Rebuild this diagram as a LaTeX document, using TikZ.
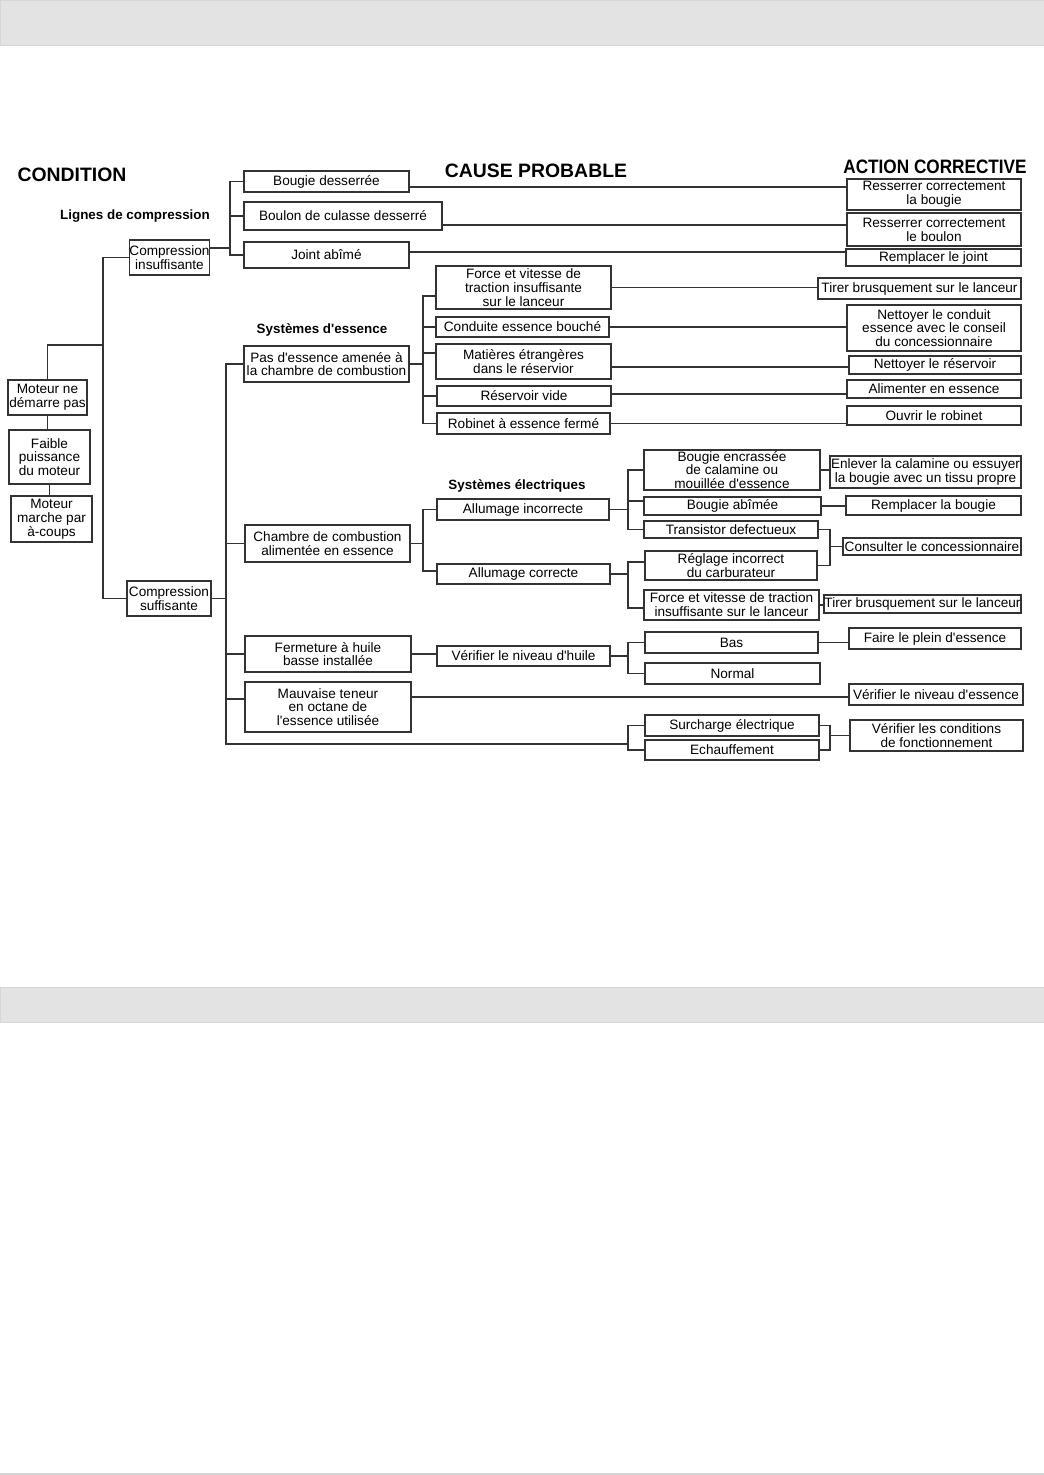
\documentclass[tikz,border=0pt]{standalone}
\usepackage{fontspec}
\setmainfont{Liberation Sans}[Ligatures=TeXOff]
\usetikzlibrary{positioning,calc}
\definecolor{band}{HTML}{E3E3E3}
\definecolor{bandline}{HTML}{D6D6D6}

\begin{document}
\begin{tikzpicture}[x=1pt,y=-1pt,
    box/.style={draw=black!80,line width=1.3pt,inner sep=0pt,align=center,
      font=\fontsize{13.6}{13.8}\selectfont},
    head/.style={inner sep=0pt,font=\fontsize{19.4}{22}\selectfont\bfseries},
    sub/.style={inner sep=0pt,font=\fontsize{13.4}{15}\selectfont\bfseries},
    link/.style={draw=black!80,line width=1.3pt}]
  \useasboundingbox (0,0) rectangle (1044,1475);
  \fill[band,draw=bandline] (0,0) rectangle (1044,45);
  \fill[band,draw=bandline] (0,987) rectangle (1044,1022);
  \fill[bandline] (0,1473) rectangle (1044,1475);

  \node[head] (hcond) at (72,175) {CONDITION};
  \node[head] (hcause) at (536,171) {CAUSE PROBABLE};
  \node[head,xscale=0.885] (hact) at (935,167) {ACTION CORRECTIVE};
  \node[sub] (lcomp) at (135,216) {Lignes de compression};
  \node[sub] (less) at (322,330) {Systèmes d'essence};
  \node[sub] (lelec) at (517,486) {Systèmes électriques};

  % condition
  \node[box,minimum width=79,minimum height=35] (mdp) at (47.5,397.5) {Moteur ne\\démarre pas};
  \node[box,minimum width=81,minimum height=54] (fpm) at (49.5,457) {Faible\\puissance\\du moteur};
  \node[box,minimum width=81,minimum height=46] (mmp) at (51.5,519) {Moteur\\marche par\\à-coups};
  \node[box,minimum width=79,minimum height=35] (ci) at (169.5,257.5) {Compression\\insuffisante};
  \node[box,minimum width=84,minimum height=35] (cs) at (169,598.5) {Compression\\suffisante};

  % cause probable
  \node[box,minimum width=165,minimum height=21] (bd) at (326.5,181.5) {Bougie desserrée};
  \node[box,minimum width=198,minimum height=28] (bc) at (343,216) {Boulon de culasse desserré};
  \node[box,minimum width=165,minimum height=26] (ja) at (326.5,255) {Joint abîmé};
  \node[box,minimum width=165,minimum height=36] (pe) at (326.5,364) {Pas d'essence amenée à\\la chambre de combustion};
  \node[box,minimum width=165,minimum height=37] (cc) at (327.5,543.5) {Chambre de combustion\\alimentée en essence};
  \node[box,minimum width=166,minimum height=36] (fh) at (328,654) {Fermeture à huile\\basse installée};
  \node[box,minimum width=166,minimum height=50] (mt) at (328,707) {Mauvaise teneur\\en octane de\\l'essence utilisée};

  \node[box,minimum width=175,minimum height=43] (fv) at (523.5,287.5) {Force et vitesse de\\traction insuffisante\\sur le lanceur};
  \node[box,minimum width=173,minimum height=20] (ceb) at (522.5,327) {Conduite essence bouché};
  \node[box,minimum width=175,minimum height=35] (me) at (523.5,361.5) {Matières étrangères\\dans le réservior};
  \node[box,minimum width=174,minimum height=20] (rv) at (524,396) {Réservoir vide};
  \node[box,minimum width=173,minimum height=21] (rf) at (523.5,423.5) {Robinet à essence fermé};
  \node[box,minimum width=172,minimum height=21] (ai) at (523,509.5) {Allumage incorrecte};
  \node[box,minimum width=173,minimum height=20] (ac) at (523.5,574) {Allumage correcte};
  \node[box,minimum width=173,minimum height=20] (vh) at (523.5,656) {Vérifier le niveau d'huile};

  \node[box,minimum width=176,minimum height=40] (be) at (732,470) {Bougie encrassée\\de calamine ou\\mouillée d'essence};
  \node[box,minimum width=177,minimum height=18] (ba) at (732.5,506) {Bougie abîmée};
  \node[box,minimum width=174,minimum height=17] (td) at (731,529.5) {Transistor defectueux};
  \node[box,minimum width=172,minimum height=29] (ri) at (731,565.5) {Réglage incorrect\\du carburateur};
  \node[box,minimum width=175,minimum height=30] (fv2) at (731.5,605) {Force et vitesse de traction\\insuffisante sur le lanceur};
  \node[box,minimum width=173,minimum height=21] (bas) at (731.5,642.5) {Bas};
  \node[box,minimum width=175,minimum height=21] (nor) at (732.5,673.5) {Normal};
  \node[box,minimum width=174,minimum height=21] (se) at (732,725.5) {Surcharge électrique};
  \node[box,minimum width=174,minimum height=20] (ech) at (732,750) {Echauffement};

  % action corrective
  \node[box,minimum width=174,minimum height=31] (rcb) at (934,194.5) {Resserrer correctement\\la bougie};
  \node[box,minimum width=174,minimum height=33] (rcbo) at (934,229.5) {Resserrer correctement\\le boulon};
  \node[box,minimum width=175,minimum height=17] (rj) at (933.5,257.5) {Remplacer le joint};
  \node[box,minimum width=203,minimum height=21] (tb) at (919.5,288.5) {Tirer brusquement sur le lanceur};
  \node[box,minimum width=174,minimum height=46] (nc) at (934,328) {Nettoyer le conduit\\essence avec le conseil\\du concessionnaire};
  \node[box,minimum width=172,minimum height=18] (nr) at (935,365) {Nettoyer le réservoir};
  \node[box,minimum width=174,minimum height=18] (ae) at (934,389) {Alimenter en essence};
  \node[box,minimum width=174,minimum height=19] (or) at (934,415.5) {Ouvrir le robinet};
  \node[box,minimum width=191,minimum height=32] (ec) at (925.5,472) {Enlever la calamine ou essuyer\\la bougie avec un tissu propre};
  \node[box,minimum width=175,minimum height=19] (rb) at (933.5,505.5) {Remplacer la bougie};
  \node[box,minimum width=178,minimum height=17] (cco) at (932,546.5) {Consulter le concessionnaire};
  \node[box,minimum width=197,minimum height=18] (tb2) at (922.5,604) {Tirer brusquement sur le lanceur};
  \node[box,minimum width=172,minimum height=21] (fp) at (935,638.5) {Faire le plein d'essence};
  \node[box,minimum width=174,minimum height=21] (ve) at (936,694.5) {Vérifier le niveau d'essence};
  \node[box,minimum width=173,minimum height=31] (vc) at (936.5,735.5) {Vérifier les conditions\\de fonctionnement};

  % junctions
  \coordinate (jcond) at (103,345);
  \coordinate (jci) at (230,248);
  \coordinate (jcs) at (226,598.5);
  \coordinate (jbot) at (226,744);
  \coordinate (jse) at (628,744);
  \coordinate (jpe) at (423,364);
  \coordinate (jcc) at (423,543.5);
  \coordinate (jai) at (628,509.5);
  \coordinate (jac) at (628,574);
  \coordinate (jvh) at (628,656);
  \coordinate (jtd) at (830,546.5);
  \coordinate (jsc) at (830,735.5);

  % condition tree
  \draw[link] (mdp.south) -- (mdp.south |- fpm.north);
  \draw[link] (fpm.south) -- (fpm.south |- mmp.north);
  \draw[link] (mdp.north) |- (jcond);
  \draw[link] (ci.west) -| (jcond) |- (cs.west);

  % compression insuffisante
  \draw[link] ([yshift=9.5pt]ci.east) -- (jci);
  \draw[link] (bd.west) -| (jci) |- (ja.west);
  \draw[link] (bc.west) -- (bc.west -| jci);
  \draw[link] ([yshift=-5.5pt]bd.east) coordinate (t1) -- (t1 -| rcb.west);
  \draw[link] ([yshift=-9pt]bc.east) coordinate (t2) -- (t2 -| rcbo.west);
  \draw[link] ([yshift=3pt]ja.east) coordinate (t3) -- (t3 -| rj.west);

  % compression suffisante
  \draw[link] (cs.east) -- (jcs);
  \draw[link] (pe.west) -| (jbot) -- (jse);
  \draw[link] (cc.west) -- (cc.west -| jbot);
  \draw[link] (fh.west) -- (fh.west -| jbot);
  \draw[link] ([yshift=8pt]mt.west) coordinate (t4) -- (t4 -| jbot);
  \draw[link] (se.west) -| (jse) |- (ech.west);
  \draw[link] (se.east) -| (jsc) |- (ech.east);
  \draw[link] (jsc) -- (vc.west);
  \draw[link] ([yshift=10pt]mt.east) coordinate (t5) -- (t5 -| ve.west);

  % essence
  \draw[link] (pe.east) -- (jpe);
  \draw[link] ([yshift=-8.5pt]fv.west) -| (jpe) |- (rf.west);
  \draw[link] (ceb.west) -- (ceb.west -| jpe);
  \draw[link] ([yshift=8.5pt]me.west) coordinate (t6) -- (t6 -| jpe);
  \draw[link] (rv.west) -- (rv.west -| jpe);
  \draw[link] (fv.east) -- (fv.east -| tb.west);
  \draw[link] (ceb.east) -- (ceb.east -| nc.west);
  \draw[link] ([yshift=-5.5pt]me.east) coordinate (t7) -- (t7 -| nr.west);
  \draw[link] ([yshift=2pt]rv.east) coordinate (t8) -- (t8 -| ae.west);
  \draw[link] (rf.east) -- (rf.east -| or.west);

  % electrique
  \draw[link] (cc.east) -- (jcc);
  \draw[link] (ai.west) -| (jcc) |- ([yshift=3pt]ac.west);
  \draw[link] (ai.east) -- (jai);
  \draw[link] (be.west) -| (jai) |- (td.west);
  \draw[link] ([yshift=5pt]ba.west) coordinate (t9) -- (t9 -| jai);
  \draw[link] (ac.east) -- (jac);
  \draw[link] ([yshift=3.5pt]ri.west) -| (jac) |- ([yshift=-3pt]fv2.west);
  \draw[link] (be.east) -- (be.east -| ec.west);
  \draw[link] (ba.east) -- (ba.east -| rb.west);
  \draw[link] (td.east) -| (jtd) |- (ri.east);
  \draw[link] (jtd) -- (cco.west);
  \draw[link] (fv2.east) -- (fv2.east -| tb2.west);

  % huile
  \draw[link] (fh.east) -- (fh.east -| vh.west);
  \draw[link] (vh.east) -- (jvh);
  \draw[link] (bas.west) -| (jvh) |- (nor.west);
  \draw[link] (bas.east) -- (bas.east -| fp.west);
\end{tikzpicture}
\end{document}
